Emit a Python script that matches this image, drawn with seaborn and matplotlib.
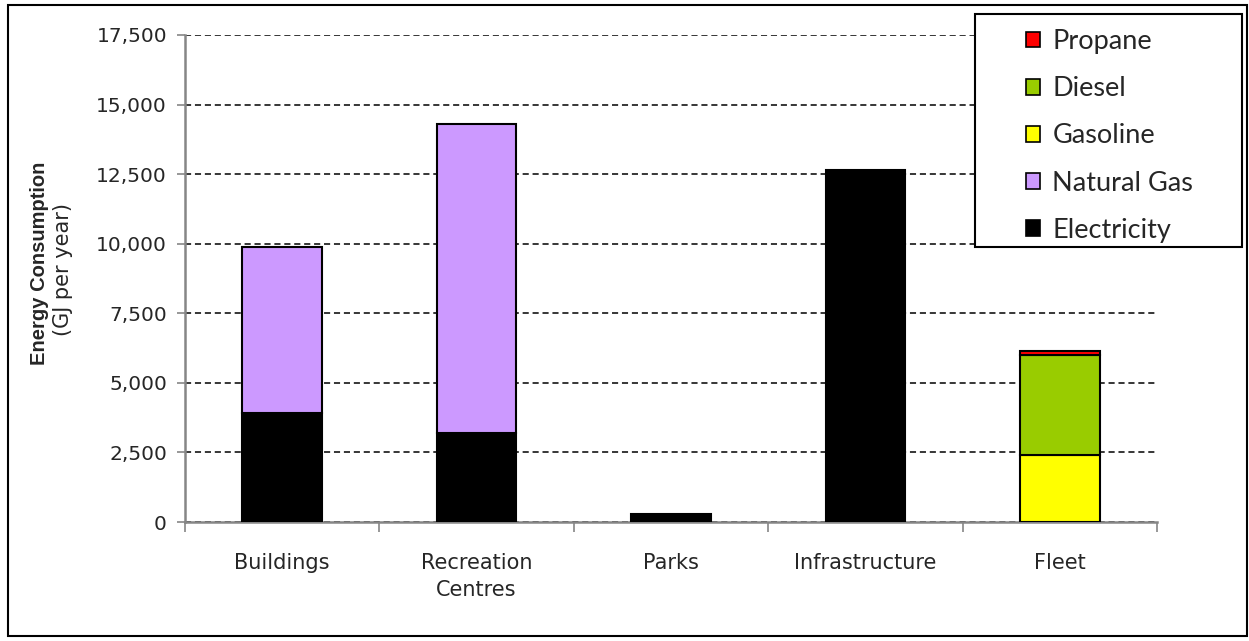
import matplotlib
matplotlib.use("Agg")
import matplotlib.pyplot as plt
import matplotlib.ticker as mticker
from matplotlib.patches import Patch, Rectangle
import seaborn as sns

categories = ["Buildings", "Recreation\nCentres", "Parks", "Infrastructure", "Fleet"]
electricity = [3900, 3200, 290, 12650, 0]
natural_gas = [5980, 11100, 0, 0, 0]
gasoline = [0, 0, 0, 0, 2400]
diesel = [0, 0, 0, 0, 3600]
propane = [0, 0, 0, 0, 150]
y_ticks = [0, 2500, 5000, 7500, 10000, 12500, 15000, 17500]

series = [
    ("Electricity", electricity, "#000000"),
    ("Natural Gas", natural_gas, "#CC99FF"),
    ("Gasoline", gasoline, "#FFFF00"),
    ("Diesel", diesel, "#99CC00"),
    ("Propane", propane, "#FF0000"),
]

sns.set_style("white")
plt.rcParams["font.family"] = ["DejaVu Sans"]

fig = plt.figure(figsize=(12.49, 6.41), dpi=100)
ax = fig.add_axes([185 / 1249, 1 - 522 / 641, (1157 - 185) / 1249, (522 - 35) / 641])

bottom = [0] * len(categories)
for name, vals, col in series:
    xs, hs, bs = [], [], []
    for c, v, b in zip(categories, vals, bottom):
        if v > 0:
            xs.append(c)
            hs.append(v)
            bs.append(b)
    if xs:
        sns.barplot(x=xs, y=hs, order=categories, bottom=bs, color=col,
                    saturation=1, width=0.41, edgecolor="black", linewidth=1.5,
                    errorbar=None, ax=ax, zorder=3)
    bottom = [b + v for b, v in zip(bottom, vals)]

ax.set_ylim(0, 17500)
ax.set_xlim(-0.5, len(categories) - 0.5)
ax.set_yticks(y_ticks)
ax.yaxis.set_major_formatter(mticker.FuncFormatter(lambda v, p: f"{int(v):,}"))
ax.yaxis.grid(True, color="black", linestyle=(0, (4, 2.5)), linewidth=1.1, zorder=0)
ax.xaxis.grid(False)
ax.set_axisbelow(True)
ax.set_xlabel("")
ax.set_ylabel("")

for s in ["top", "right"]:
    ax.spines[s].set_visible(False)
for s in ["left", "bottom"]:
    ax.spines[s].set_color("#868686")
    ax.spines[s].set_linewidth(1.8)

ax.tick_params(axis="y", which="major", direction="out", length=6, width=1.2,
               color="#868686", labelsize=14.5, pad=7, left=True)
ax.set_xticks([i - 0.5 for i in range(len(categories) + 1)], minor=True)
ax.tick_params(axis="x", which="minor", direction="out", length=7, width=1.2,
               color="#868686", bottom=True)
ax.tick_params(axis="x", which="major", length=0, labelsize=15, pad=22.5)
for lbl in ax.get_xticklabels():
    lbl.set_linespacing(1.45)

fig.text(40 / 1249, 1 - 263 / 641, "Energy Consumption", rotation=90,
         ha="center", va="center", fontsize=14.5, fontweight="bold",
         family="Liberation Sans")
fig.text(63 / 1249, 1 - 270 / 641, "(GJ per year)", rotation=90,
         ha="center", va="center", fontsize=15, family="DejaVu Sans")

# figure border
fig.patches.append(Rectangle((8 / 1249, 5 / 641), (1247 - 8) / 1249, (636 - 5) / 641,
                             transform=fig.transFigure, fill=False,
                             edgecolor="black", linewidth=1.5, zorder=0))
# legend frame
fig.patches.append(Rectangle((975 / 1249, 1 - 247 / 641), (1242 - 975) / 1249,
                             (247 - 14) / 641, transform=fig.transFigure,
                             facecolor="white", edgecolor="black", linewidth=1.5,
                             zorder=5))

handles = [Patch(facecolor=col, edgecolor="black", linewidth=1.2, label=name)
           for name, vals, col in reversed(series)]
leg = fig.legend(handles=handles, loc="center left",
                 bbox_to_anchor=(1026 / 1249, 1 - 136 / 641), frameon=False,
                 prop={"family": "Lato", "size": 19.5}, handlelength=0.52,
                 handleheight=0.52, handletextpad=0.45, labelspacing=0.82,
                 borderpad=0, borderaxespad=0)
leg.set_zorder(6)

fig.savefig("out.png", dpi=100)
